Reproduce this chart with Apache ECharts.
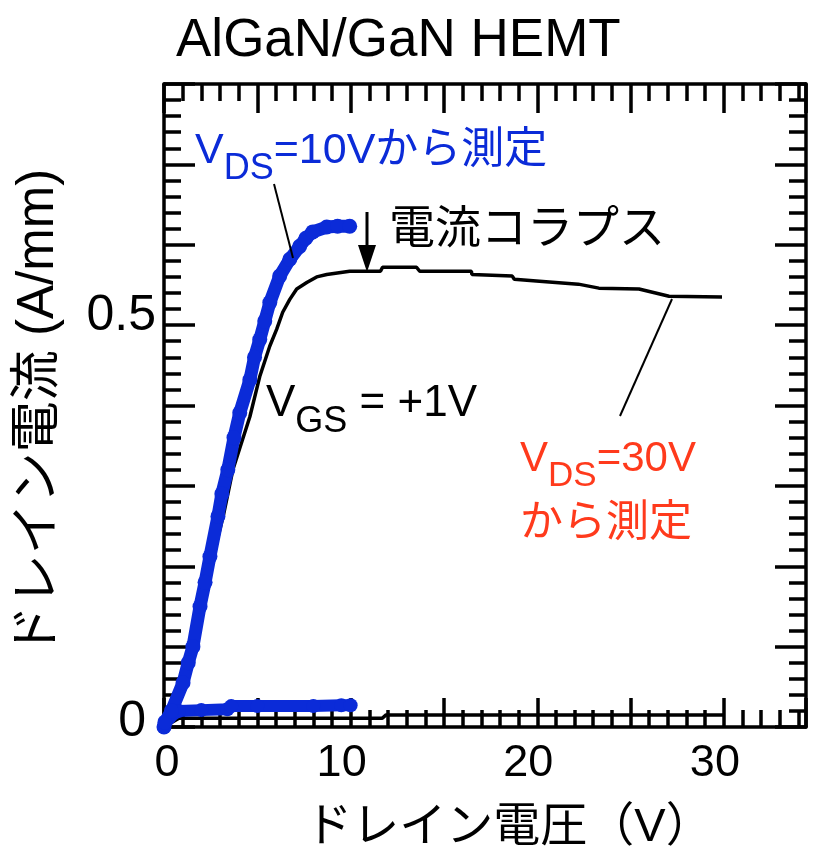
<!DOCTYPE html>
<html>
<head>
<meta charset="utf-8">
<script src="https://cdn.jsdelivr.net/npm/echarts@6/dist/echarts.min.js"></script>
<style>
  html, body { margin: 0; padding: 0; background: #fff; }
  #chart { width: 814px; height: 858px; }
</style>
</head>
<body>
<div id="chart"></div>
<script>
// Drain current vs drain voltage, AlGaN/GaN HEMT at VGS = +1 V
// [drain voltage (V), drain current (A/mm)]
const sweepFrom10V = [
  [0, 0], [0.05, 0.006], [0.4, 0.02], [1.02, 0.055], [1.3, 0.08], [1.55, 0.1],
  [1.93, 0.15], [2.2, 0.18], [2.46, 0.212], [2.89, 0.262], [3.1, 0.29],
  [3.42, 0.32], [3.75, 0.36], [4.06, 0.391], [4.6, 0.432], [4.85, 0.46],
  [5.13, 0.482], [5.4, 0.505], [5.67, 0.528], [6.2, 0.561], [6.74, 0.582],
  [7.27, 0.598], [7.6, 0.608], [7.97, 0.616], [8.72, 0.622], [9.3, 0.623],
  [9.95, 0.623]
];
const sweepFrom10VOff = [
  [0, 0], [0.3, 0.012], [0.8, 0.02], [2.0, 0.021], [3.4, 0.022], [3.6, 0.026],
  [5, 0.026], [8, 0.026], [9.5, 0.027], [10, 0.027]
];
const sweepFrom30V = [
  [0, 0], [0.5, 0.03], [1.5, 0.1], [2.5, 0.2], [3.2, 0.265], [3.69, 0.32],
  [4.6, 0.386], [5.13, 0.436], [5.67, 0.474], [6.04, 0.495], [6.36, 0.516],
  [6.74, 0.532], [7.11, 0.545], [7.65, 0.553], [8.18, 0.56], [8.72, 0.563],
  [9.95, 0.567], [10.86, 0.567], [11.6, 0.567], [11.71, 0.572], [13.53, 0.572],
  [13.7, 0.567], [16.47, 0.567], [16.5, 0.563], [18.66, 0.561], [18.77, 0.557],
  [19.95, 0.555], [22.2, 0.551], [23.3, 0.546], [25.45, 0.545], [27.06, 0.536],
  [29.9, 0.535]
];
const sweepFrom30VOff = [
  [0, 0], [0.8, 0.011], [11.7, 0.011], [11.9, 0.015], [30, 0.015]
];
const xLabels = [0, 10, 20, 30];
const yLabels = [0, 0.5];

const BLUE = '#0b2bd8';
const RED = '#ff3a1c';
const FONT = "'Liberation Sans', 'Noto Sans CJK JP', sans-serif";
const JP = "'Liberation Sans', 'Noto Sans CJK JP', sans-serif";

const tickStyle = { color: '#000', width: 3.5 };
const baseX = {
  type: 'value', min: 0, max: 34.4, interval: 5,
  axisLine: { show: true, onZero: false, lineStyle: { color: '#000', width: 3.5 } },
  axisTick: { show: true, inside: true, length: 29, lineStyle: tickStyle },
  minorTick: { show: true, splitNumber: 5, length: 17, lineStyle: tickStyle },
  splitLine: { show: false }, minorSplitLine: { show: false }
};
const baseY = {
  type: 'value', min: 0, max: 0.8, interval: 0.1,
  axisLine: { show: true, onZero: false, lineStyle: { color: '#000', width: 3.5 } },
  axisTick: { show: true, inside: true, length: 31, lineStyle: tickStyle },
  minorTick: { show: true, splitNumber: 5, length: 17, lineStyle: tickStyle },
  splitLine: { show: false }, minorSplitLine: { show: false }
};

const near = (v, list) => list.some(t => Math.abs(v - t) < 1e-6);

const chart = echarts.init(document.getElementById('chart'), null, { renderer: 'canvas' });
chart.setOption({
  animation: false,
  backgroundColor: '#fff',
  title: {
    text: 'AlGaN/GaN HEMT', left: 171, top: 10,
    textStyle: { fontFamily: FONT, fontSize: 53, fontWeight: 'normal', color: '#000' }
  },
  grid: { left: 164, right: 8, top: 84, bottom: 131, containLabel: false },
  xAxis: [
    Object.assign({}, baseX, {
      position: 'bottom',
      name: 'ドレイン電圧（V）', nameLocation: 'middle', nameGap: 78,
      nameTextStyle: { fontFamily: JP, fontSize: 47, color: '#000', padding: [0, 0, 0, 48] },
      axisLabel: {
        show: true, margin: 14, color: '#000',
        showMaxLabel: false, showMinLabel: true,
        formatter: v => (near(v, xLabels) ? (v === 0 ? '{z|0}' : '{n|' + v + '}') : ''),
        rich: {
          z: { fontFamily: FONT, fontSize: 45, color: '#000', padding: [0, 0, 0, 6] },
          n: { fontFamily: FONT, fontSize: 45, color: '#000', padding: [0, 18, 0, 0] }
        }
      }
    }),
    Object.assign({}, baseX, { position: 'top', axisLabel: { show: false } })
  ],
  yAxis: [
    Object.assign({}, baseY, {
      position: 'left',
      name: 'ドレイン電流 (A/mm)', nameLocation: 'middle', nameGap: 100,
      nameTextStyle: { fontFamily: JP, fontSize: 51, color: '#000', padding: [0, 14, 0, 0] },
      axisLabel: {
        show: true, margin: 8, color: '#000',
        formatter: v => (near(v, yLabels) ? (v < 0.25 ? '{z|0}' : '{h|0.5}') : ''),
        rich: {
          z: { fontFamily: FONT, fontSize: 50, color: '#000', padding: [0, 10, 10, 0] },
          h: { fontFamily: FONT, fontSize: 50, color: '#000', padding: [0, 0, 18, 0] }
        }
      }
    }),
    Object.assign({}, baseY, { position: 'right', axisLabel: { show: false } })
  ],
  series: [
    {
      name: 'VDS=30V off', type: 'line', data: sweepFrom30VOff,
      xAxisIndex: 0, yAxisIndex: 0, symbol: 'none',
      lineStyle: { color: '#000', width: 3.5 }, z: 2
    },
    {
      name: 'VDS=30V', type: 'line', data: sweepFrom30V,
      xAxisIndex: 0, yAxisIndex: 0, symbol: 'none',
      lineStyle: { color: '#000', width: 3.5 }, z: 2
    },
    {
      name: 'VDS=10V off', type: 'line', data: sweepFrom10VOff,
      xAxisIndex: 0, yAxisIndex: 0, symbol: 'circle', symbolSize: 14, showAllSymbol: true,
      itemStyle: { color: BLUE }, lineStyle: { color: BLUE, width: 12, cap: 'round', join: 'round' }, z: 3
    },
    {
      name: 'VDS=10V', type: 'line', data: sweepFrom10V,
      xAxisIndex: 0, yAxisIndex: 0, symbol: 'circle', symbolSize: 15, showAllSymbol: true,
      itemStyle: { color: BLUE }, lineStyle: { color: BLUE, width: 13, cap: 'round', join: 'round' }, z: 3
    }
  ],
  graphic: [
    // blue annotation
    {
      type: 'text', left: 195, top: 130, z: 10,
      style: {
        text: '{m|V}{s|DS}{m|=10Vから測定}',
        fill: BLUE,
        rich: {
          m: { fontFamily: JP, fontSize: 43, fill: BLUE },
          s: { fontFamily: FONT, fontSize: 36, fill: BLUE, padding: [36, 0, 0, 0] }
        }
      }
    },
    { type: 'line', z: 10, shape: { x1: 274, y1: 184, x2: 293, y2: 258 }, style: { stroke: '#000', lineWidth: 2 } },
    // current collapse label and arrow
    {
      type: 'text', left: 389, top: 207, z: 10,
      style: { text: '電流コラプス', fontFamily: JP, fontSize: 46, fill: '#000' }
    },
    { type: 'line', z: 10, shape: { x1: 367, y1: 212, x2: 367, y2: 252 }, style: { stroke: '#000', lineWidth: 3 } },
    { type: 'polygon', z: 10, shape: { points: [[358, 245], [376, 245], [367, 272]] }, style: { fill: '#000' } },
    // gate bias label
    {
      type: 'text', left: 266, top: 382, z: 10,
      style: {
        text: '{m|V}{s|GS}{m| = +1V}',
        rich: {
          m: { fontFamily: FONT, fontSize: 44, fill: '#000' },
          s: { fontFamily: FONT, fontSize: 36, fill: '#000', padding: [36, 0, 0, 0] }
        }
      }
    },
    // red annotation
    {
      type: 'text', left: 520, top: 438, z: 10,
      style: {
        text: '{m|V}{s|DS}{m|=30V}',
        rich: {
          m: { fontFamily: FONT, fontSize: 42, fill: RED },
          s: { fontFamily: FONT, fontSize: 35, fill: RED, padding: [34, 0, 0, 0] }
        }
      }
    },
    {
      type: 'text', left: 520, top: 503, z: 10,
      style: { text: 'から測定', fontFamily: JP, fontSize: 43, fill: RED }
    },
    { type: 'line', z: 10, shape: { x1: 672, y1: 299, x2: 620, y2: 416 }, style: { stroke: '#000', lineWidth: 2 } }
  ]
});
</script>
</body>
</html>
